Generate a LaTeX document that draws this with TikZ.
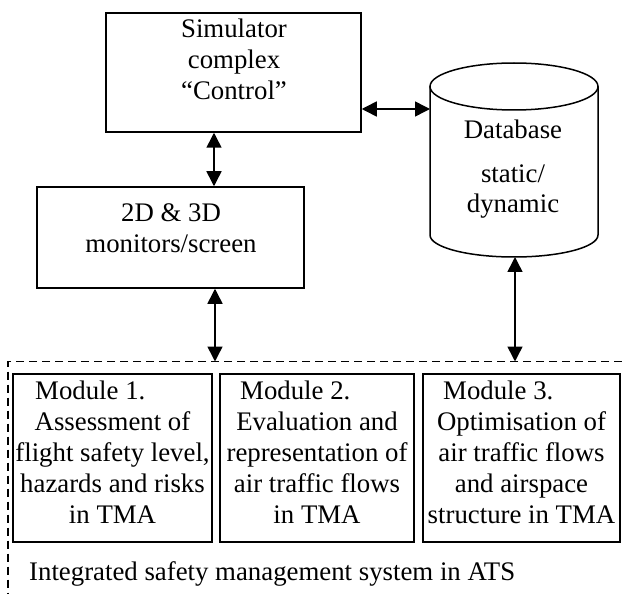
\documentclass[tikz,border=0pt]{standalone}
\usepackage{fontspec}
\setmainfont{Liberation Serif}
\usetikzlibrary{arrows.meta}
\tikzset{
  box/.style={draw, line width=1.5pt, rectangle, inner sep=0pt},
  txt/.style={anchor=base, inner sep=0pt, font=\fontsize{26.8pt}{31pt}\selectfont},
  txtl/.style={anchor=base west, inner sep=0pt, font=\fontsize{26.8pt}{31pt}\selectfont},
  arr/.style={line width=1.5pt, {Triangle[length=15pt,width=15pt]}-{Triangle[length=15pt,width=15pt]}},
  frame/.style={line width=1.4pt, dash pattern=on 8pt off 5pt}
}
\begin{document}
\begin{tikzpicture}[x=1pt,y=-1pt]
\useasboundingbox (0,0) rectangle (622,599);
% boxes
\node[box, minimum width=255pt, minimum height=119pt] (sim) at (233.5,72.5) {};
\node[box, minimum width=267pt, minimum height=101pt] (mon) at (170.5,237.5) {};
\node[box, minimum width=199pt, minimum height=168pt] (m1) at (112.5,458) {};
\node[box, minimum width=194pt, minimum height=168pt] (m2) at (317,458) {};
\node[box, minimum width=197pt, minimum height=168pt] (m3) at (521.5,458) {};
% database cylinder
\draw[line width=1.5pt] (430,86.5) -- (430,235) arc[start angle=180,end angle=360,x radius=84pt,y radius=22pt] -- (598,86.5);
\draw[line width=1.5pt] (514,86.5) ellipse[x radius=84pt, y radius=23.5pt];
\coordinate (dbL) at (430,109);
\coordinate (dbB) at (515,257);
% texts
\node[txt] (t1) at (234,38) {Simulator};
\node[txt] (t2) at (234,69) {complex};
\node[txt] (t3) at (234,100) {“Control”};
\node[txt] (t4) at (171,222) {2D \& 3D};
\node[txt] (t5) at (171,253) {monitors/screen};
\node[txt] (t6) at (513,139) {Database};
\node[txt] (t7) at (513,183) {static/};
\node[txt] (t8) at (513,213) {dynamic};
% module 1
\node[txtl] (a1) at (35,399) {Module 1.};
\node[txt] (a2) at (112.5,430) {Assessment of};
\node[txt] (a3) at (112.5,461) {flight safety level,};
\node[txt] (a4) at (112.5,492) {hazards and risks};
\node[txt] (a5) at (112.5,523) {in TMA};
% module 2
\node[txtl] (b1) at (240,399) {Module 2.};
\node[txt] (b2) at (317,430) {Evaluation and};
\node[txt] (b3) at (317,461) {representation of};
\node[txt] (b4) at (317,492) {air traffic flows};
\node[txt] (b5) at (317,523) {in TMA};
% module 3
\node[txtl] (c1) at (443,399) {Module 3.};
\node[txt] (c2) at (521.5,430) {Optimisation of};
\node[txt] (c3) at (521.5,461) {air traffic flows};
\node[txt] (c4) at (521.5,492) {and airspace};
\node[txt] (c5) at (521.5,523) {structure in TMA};
\node[txtl] (ist) at (29,580) {Integrated safety management system in ATS};
% dashed frame
\coordinate (frTR) at (622,361.5);
\coordinate (frTL) at (8,361.5);
\coordinate (frBL) at (8,594);
\draw[frame] (frTR) -- (frTL) -- (frBL);
% connectors
\coordinate (xa) at (214,0);
\coordinate (xb) at (215,0);
\draw[arr] (sim.east |- dbL) -- (dbL);
\draw[arr] (sim.south -| xa) -- (mon.north -| xa);
\draw[arr] (mon.south -| xb) -- (frTL -| xb);
\draw[arr] (dbB) -- (frTL -| dbB);
\end{tikzpicture}
\end{document}
